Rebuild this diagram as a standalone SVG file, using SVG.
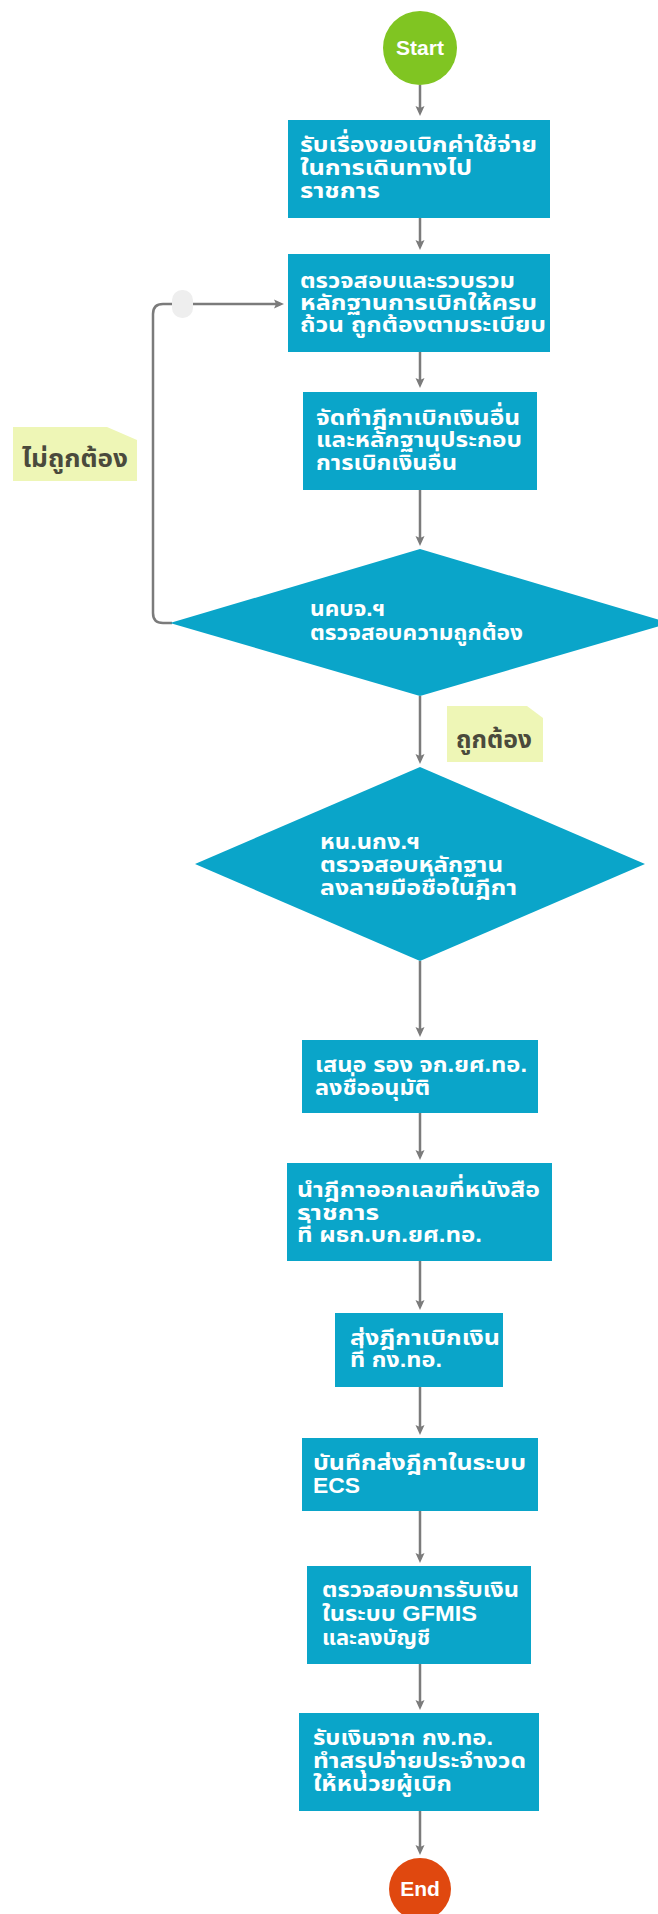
<svg xmlns="http://www.w3.org/2000/svg" width="658" height="1914" viewBox="0 0 658 1914">
<style>
.box{fill:#0aa5c9}
.t{font-family:"Liberation Sans","Noto Sans Thai","Noto Sans",sans-serif;font-size:22px;font-weight:bold;fill:#ffffff}
.note{fill:#eef6b6}
.nt{font-family:"Liberation Sans","Noto Sans Thai","Noto Sans",sans-serif;font-size:25px;font-weight:bold;fill:#4a4a3c}
.c{fill:none;stroke:#7b7b7b;stroke-width:2.5}
.term{font-family:"Liberation Sans",Arial,sans-serif;font-size:21px;font-weight:bold;fill:#ffffff;text-anchor:middle}
</style>
<defs>
<marker id="ah" viewBox="0 0 10 10" refX="6" refY="5" markerWidth="10" markerHeight="10" markerUnits="userSpaceOnUse" orient="auto">
<path d="M0,0.5 L10,5 L0,9.5 L2,5 z" fill="#7b7b7b"/>
</marker>
</defs>
<rect width="658" height="1914" fill="#ffffff"/>
<g id="connectors">
<path class="c" d="M420,85 V112" marker-end="url(#ah)"/>
<path class="c" d="M420,218 V246" marker-end="url(#ah)"/>
<path class="c" d="M420,352 V384" marker-end="url(#ah)"/>
<path class="c" d="M420,490 V542" marker-end="url(#ah)"/>
<path class="c" d="M420,696 V760" marker-end="url(#ah)"/>
<path class="c" d="M420,961 V1033" marker-end="url(#ah)"/>
<path class="c" d="M420,1113 V1156" marker-end="url(#ah)"/>
<path class="c" d="M420,1261 V1306" marker-end="url(#ah)"/>
<path class="c" d="M420,1387 V1431" marker-end="url(#ah)"/>
<path class="c" d="M420,1511 V1559" marker-end="url(#ah)"/>
<path class="c" d="M420,1664 V1706" marker-end="url(#ah)"/>
<path class="c" d="M420,1811 V1851" marker-end="url(#ah)"/>
<path class="c" d="M172,623 H163 Q153,623 153,613 V314 Q153,304 163,304 H280" marker-end="url(#ah)"/>
<rect x="172" y="290" width="21" height="28" rx="10" fill="#eeeeee"/>
</g>
<g id="start">
<circle cx="420" cy="48" r="37" fill="#80c522"/>
<text class="term" x="420" y="55">Start</text>
</g>
<g id="n1">
<rect class="box" x="288" y="120" width="262" height="98"/>
<text class="t" x="300" y="152" textLength="237" lengthAdjust="spacingAndGlyphs">รับเรื่องขอเบิกค่าใช้จ่าย</text>
<text class="t" x="300" y="175" textLength="172" lengthAdjust="spacingAndGlyphs">ในการเดินทางไป</text>
<text class="t" x="300" y="198" textLength="80" lengthAdjust="spacingAndGlyphs">ราชการ</text>
</g>
<g id="n2">
<rect class="box" x="288" y="254" width="262" height="98"/>
<text class="t" x="300" y="288" textLength="215" lengthAdjust="spacingAndGlyphs">ตรวจสอบและรวบรวม</text>
<text class="t" x="300" y="310" textLength="237" lengthAdjust="spacingAndGlyphs">หลักฐานการเบิกให้ครบ</text>
<text class="t" x="300" y="332" textLength="246" lengthAdjust="spacingAndGlyphs">ถ้วน ถูกต้องตามระเบียบ</text>
</g>
<g id="n3">
<rect class="box" x="303" y="392" width="234" height="98"/>
<text class="t" x="316" y="425" textLength="204" lengthAdjust="spacingAndGlyphs">จัดทำฎีกาเบิกเงินอื่น</text>
<text class="t" x="316" y="447" textLength="206" lengthAdjust="spacingAndGlyphs">และหลักฐานประกอบ</text>
<text class="t" x="316" y="470" textLength="141" lengthAdjust="spacingAndGlyphs">การเบิกเงินอื่น</text>
</g>
<g id="d1">
<polygon class="box" points="420,549 670,623 420,696 170,623"/>
<text class="t" x="310" y="616" textLength="75" lengthAdjust="spacingAndGlyphs">นคบจ.ฯ</text>
<text class="t" x="310" y="640" textLength="213" lengthAdjust="spacingAndGlyphs">ตรวจสอบความถูกต้อง</text>
</g>
<g id="note-no">
<polygon class="note" points="13,427 107,427 137,440 137,481 13,481"/>
<text class="nt" x="22" y="467" textLength="106" lengthAdjust="spacingAndGlyphs">ไม่ถูกต้อง</text>
</g>
<g id="note-yes">
<polygon class="note" points="447,706 527,706 543,718 543,762 447,762"/>
<text class="nt" x="456" y="748" textLength="76" lengthAdjust="spacingAndGlyphs">ถูกต้อง</text>
</g>
<g id="d2">
<polygon class="box" points="420,767 645,864 420,961 195,864"/>
<text class="t" x="320" y="849" textLength="100" lengthAdjust="spacingAndGlyphs">หน.นกง.ฯ</text>
<text class="t" x="320" y="872" textLength="183" lengthAdjust="spacingAndGlyphs">ตรวจสอบหลักฐาน</text>
<text class="t" x="320" y="895" textLength="197" lengthAdjust="spacingAndGlyphs">ลงลายมือชื่อในฎีกา</text>
</g>
<g id="n4">
<rect class="box" x="302" y="1040" width="236" height="73"/>
<text class="t" x="315" y="1072" textLength="212" lengthAdjust="spacingAndGlyphs">เสนอ รอง จก.ยศ.ทอ.</text>
<text class="t" x="315" y="1095" textLength="115" lengthAdjust="spacingAndGlyphs">ลงชื่ออนุมัติ</text>
</g>
<g id="n5">
<rect class="box" x="287" y="1163" width="265" height="98"/>
<text class="t" x="297" y="1197" textLength="243" lengthAdjust="spacingAndGlyphs">นำฎีกาออกเลขที่หนังสือ</text>
<text class="t" x="297" y="1220" textLength="82" lengthAdjust="spacingAndGlyphs">ราชการ</text>
<text class="t" x="297" y="1242" textLength="185" lengthAdjust="spacingAndGlyphs">ที่ ผธก.บก.ยศ.ทอ.</text>
</g>
<g id="n6">
<rect class="box" x="335" y="1313" width="168" height="74"/>
<text class="t" x="350" y="1345" textLength="150" lengthAdjust="spacingAndGlyphs">ส่งฎีกาเบิกเงิน</text>
<text class="t" x="350" y="1367" textLength="92" lengthAdjust="spacingAndGlyphs">ที่ กง.ทอ.</text>
</g>
<g id="n7">
<rect class="box" x="302" y="1438" width="236" height="73"/>
<text class="t" x="313" y="1470" textLength="213" lengthAdjust="spacingAndGlyphs">บันทึกส่งฎีกาในระบบ</text>
<text class="t" x="313" y="1493" textLength="47" lengthAdjust="spacingAndGlyphs">ECS</text>
</g>
<g id="n8">
<rect class="box" x="307" y="1566" width="224" height="98"/>
<text class="t" x="322" y="1597" textLength="197" lengthAdjust="spacingAndGlyphs">ตรวจสอบการรับเงิน</text>
<text class="t" x="322" y="1621" textLength="155" lengthAdjust="spacingAndGlyphs">ในระบบ GFMIS</text>
<text class="t" x="322" y="1645" textLength="108" lengthAdjust="spacingAndGlyphs">และลงบัญชี</text>
</g>
<g id="n9">
<rect class="box" x="299" y="1713" width="240" height="98"/>
<text class="t" x="313" y="1745" textLength="180" lengthAdjust="spacingAndGlyphs">รับเงินจาก กง.ทอ.</text>
<text class="t" x="313" y="1768" textLength="213" lengthAdjust="spacingAndGlyphs">ทำสรุปจ่ายประจำงวด</text>
<text class="t" x="313" y="1791" textLength="139" lengthAdjust="spacingAndGlyphs">ให้หน่วยผู้เบิก</text>
</g>
<g id="end">
<circle cx="420" cy="1889" r="31" fill="#e0480f"/>
<text class="term" x="420" y="1896">End</text>
</g>
</svg>
